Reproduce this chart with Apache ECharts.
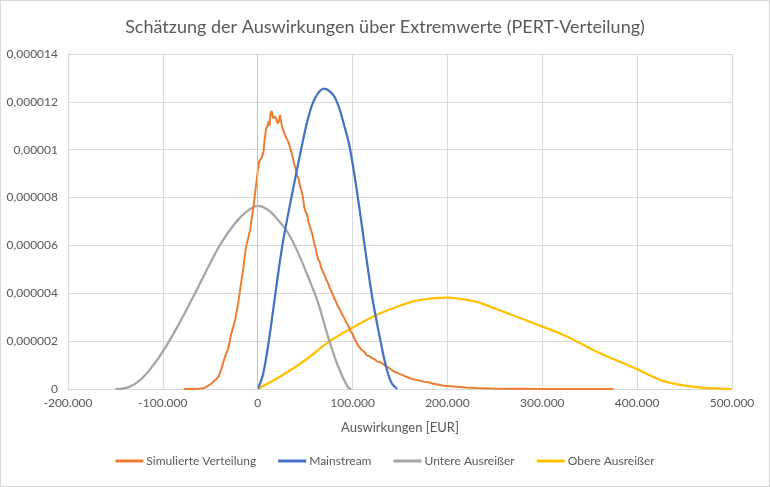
<!DOCTYPE html>
<html>
<head>
<meta charset="utf-8">
<script src="https://cdn.jsdelivr.net/npm/echarts@6/dist/echarts.min.js"></script>
<style>
html,body{margin:0;padding:0;background:#fff;}
#c{width:770px;height:487px;box-sizing:border-box;border:1px solid #D9D9D9;}
</style>
</head>
<body>
<div id="c"></div>
<script>
const titleText = 'Schätzung der Auswirkungen über Extremwerte (PERT-Verteilung)';
const xAxisName = 'Auswirkungen [EUR]';
const seriesNames = ['Simulierte Verteilung', 'Mainstream', 'Untere Ausreißer', 'Obere Ausreißer'];

const simulierte = [
[-78000,0],[-70000,0],[-62000,1e-8],[-57000,3e-8],[-53000,1.2e-7],[-49000,2.2e-7],[-46000,3.4e-7],[-43000,4.4e-7],
[-41000,5.5e-7],[-38500,8e-7],[-36500,1.1e-6],[-35000,1.15e-6],[-33500,1.45e-6],[-31000,1.7e-6],[-29500,2.0e-6],
[-28000,2.3e-6],[-26500,2.35e-6],[-25000,2.7e-6],[-23500,2.95e-6],[-21000,3.5e-6],[-18500,4.15e-6],[-16500,4.7e-6],
[-15000,5.1e-6],[-13500,5.6e-6],[-12000,6.0e-6],[-10000,6.3e-6],[-8000,6.65e-6],[-6000,7.2e-6],[-4500,7.6e-6],
[-3000,8.1e-6],[-1500,8.6e-6],[0,9.1e-6],[1500,9.5e-6],[3000,9.6e-6],[4500,9.7e-6],[6000,9.9e-6],[7500,1.05e-5],
[9000,1.09e-5],[10500,1.1e-5],[11500,1.12e-5],[12500,1.1e-5],[13500,1.15e-5],[14500,1.163e-5],[15500,1.155e-5],
[16500,1.13e-5],[17500,1.14e-5],[18500,1.145e-5],[19500,1.13e-5],[21000,1.11e-5],[22500,1.12e-5],[23500,1.145e-5],
[25000,1.11e-5],[26500,1.085e-5],[28000,1.07e-5],[29500,1.055e-5],[31000,1.05e-5],[32500,1.03e-5],[34000,1.01e-5],
[35500,9.9e-6],[37000,9.65e-6],[38500,9.4e-6],[40000,9.2e-6],[41500,8.9e-6],[43000,8.8e-6],[44500,8.5e-6],
[46000,8.3e-6],[47500,8.05e-6],[49000,7.6e-6],[50500,7.4e-6],[52000,7.3e-6],[53500,7.0e-6],[55000,6.95e-6],
[56500,6.6e-6],[58000,6.4e-6],[59500,6.1e-6],[61000,5.9e-6],[62500,5.6e-6],[64000,5.4e-6],[65500,5.3e-6],
[67000,5.05e-6],[68500,5.0e-6],[70000,4.8e-6],[71500,4.65e-6],[73000,4.5e-6],[74500,4.4e-6],[76000,4.2e-6],
[77500,4.1e-6],[79000,3.95e-6],[80500,3.8e-6],[82000,3.7e-6],[84000,3.5e-6],[86000,3.35e-6],[88000,3.2e-6],
[90000,3.05e-6],[92000,2.9e-6],[94000,2.75e-6],[96000,2.6e-6],[98000,2.4e-6],[100000,2.3e-6],[102000,2.1e-6],
[104000,1.95e-6],[106000,1.8e-6],[108000,1.75e-6],[110000,1.62e-6],[112500,1.55e-6],[115000,1.4e-6],[117500,1.38e-6],
[120000,1.3e-6],[123000,1.25e-6],[126000,1.15e-6],[129000,1.12e-6],[132000,1.05e-6],[135000,9.5e-7],[138000,9e-7],
[141000,8e-7],[144000,7.2e-7],[147000,6.8e-7],[150000,6.2e-7],[153000,5.8e-7],[156000,5.2e-7],[160000,4.6e-7],
[165000,4.0e-7],[170000,3.6e-7],[175000,3.0e-7],[180000,2.8e-7],[185000,2.2e-7],[190000,1.9e-7],[195000,1.5e-7],
[200000,1.3e-7],[210000,9e-8],[220000,6e-8],[230000,4e-8],[245000,2.5e-8],[260000,1.5e-8],[280000,1e-8],
[300000,5e-9],[330000,3e-9],[375000,0]
];

const mainstream = [
[0,0],[5500,6e-7],[11700,2.0e-6],[18700,4.0e-6],[26000,6.0e-6],[35500,8.0e-6],[45700,1.0e-5],
[53000,1.13e-5],[60400,1.215e-5],[70000,1.255e-5],[81500,1.217e-5],[92000,1.09e-5],[97500,1.0e-5],
[105600,8.0e-6],[112700,6.0e-6],[120000,4.0e-6],[124300,3.05e-6],[129500,2.0e-6],[134300,1.1e-6],[140600,2.9e-7],[147000,0]
];

const untere = [
[-150000,0],[-136000,8e-8],[-122500,4.2e-7],[-107700,1.12e-6],[-94100,1.95e-6],[-80400,2.91e-6],[-65700,4.03e-6],
[-52000,5.11e-6],[-38400,6.11e-6],[-23600,6.94e-6],[-12100,7.4e-6],[0,7.65e-6],[11000,7.48e-6],[21500,7.06e-6],
[32000,6.52e-6],[42600,5.69e-6],[53000,4.7e-6],[63600,3.61e-6],[74000,2.2e-6],[84600,9.6e-7],[95000,8e-8],[98500,0]
];

const obere = [
[0,0],[24700,5.4e-7],[49900,1.2e-6],[74000,1.95e-6],[98300,2.53e-6],[126700,3.12e-6],[147700,3.45e-6],
[168700,3.7e-6],[198000,3.82e-6],[228600,3.66e-6],[252800,3.32e-6],[287500,2.8e-6],[323000,2.25e-6],
[358000,1.55e-6],[400000,8.3e-7],[428000,3.3e-7],[463000,8e-8],[500000,0]
];

const xTicks = {min:-200000, max:500000, interval:100000};
const yTicks = {min:0, max:0.000014, interval:0.000002};

const colors = ['#ED7D31', '#4472C4', '#A5A5A5', '#FFC000'];
const font = 'Lato, "Open Sans", sans-serif';

function fmtX(v){
  const neg = v < 0; let s = Math.abs(Math.round(v)).toString();
  s = s.replace(/\B(?=(\d{3})+(?!\d))/g, '.');
  return (neg ? '-' : '') + s;
}
function fmtY(v){
  if (Math.abs(v) < 1e-12) return '0';
  let s = v.toFixed(6).replace(/0+$/, '').replace(/\.$/, '');
  return s.replace('.', ',');
}

const chart = echarts.init(document.getElementById('c'));
const dataSets = [simulierte, mainstream, untere, obere];
chart.setOption({
  animation: false,
  title: {
    text: titleText, left: 'center', top: 12,
    textStyle: {fontFamily: font, fontSize: 18, fontWeight: 'normal', color: '#595959'}
  },
  legend: {
    bottom: 14, left: 'center', itemGap: 22, itemWidth: 28, itemHeight: 3,
    icon: 'rect',
    textStyle: {fontFamily: font, fontSize: 12, color: '#595959', padding: [0, 0, 0, -2]},
    data: seriesNames
  },
  grid: {left: 67, right: 37, top: 53, bottom: 97},
  xAxis: {
    type: 'value', min: xTicks.min, max: xTicks.max, interval: xTicks.interval,
    name: xAxisName, nameLocation: 'middle', nameGap: 32,
    nameTextStyle: {fontFamily: font, fontSize: 13, color: '#595959'},
    axisLine: {show: true, onZero: false, lineStyle: {color: '#D9D9D9'}},
    axisTick: {show: false},
    axisLabel: {formatter: fmtX, fontFamily: font, fontSize: 12, color: '#595959', margin: 8},
    splitLine: {show: true, lineStyle: {color: '#D9D9D9'}}
  },
  yAxis: {
    type: 'value', min: yTicks.min, max: yTicks.max, interval: yTicks.interval,
    axisLine: {show: false}, axisTick: {show: false},
    axisLabel: {formatter: fmtY, fontFamily: font, fontSize: 12, color: '#595959', margin: 10},
    splitLine: {show: true, lineStyle: {color: '#D9D9D9'}}
  },
  series: dataSets.map((d, i) => ({
    name: seriesNames[i], type: 'line', data: d,
    showSymbol: false, symbol: 'none',
    smooth: i === 0 ? false : 0.35,
    lineStyle: {color: colors[i], width: i === 0 ? 2 : 2.25},
    itemStyle: {color: colors[i]},
    z: [3, 4, 2, 1][i],
    markLine: i === 2 ? {
      silent: true, symbol: 'none', label: {show: false},
      lineStyle: {color: '#BFBFBF', type: 'solid', width: 1},
      data: [{xAxis: 0}]
    } : undefined
  }))
});
</script>
</body>
</html>
